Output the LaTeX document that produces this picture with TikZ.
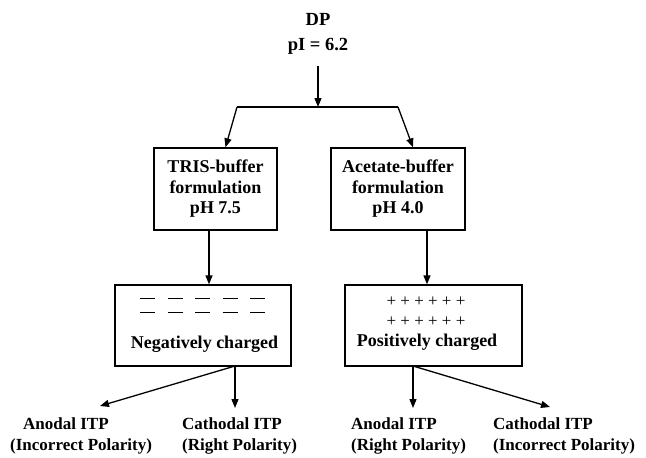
\documentclass[tikz,border=0pt]{standalone}
\usepackage{fontspec}
\setmainfont{Liberation Serif}
\usepackage{tikz}
\usetikzlibrary{positioning, arrows.meta, calc}

\tikzset{
  box/.style={draw, line width=1.3pt, inner sep=0pt},
  lbl/.style={font=\fontsize{17}{21}\selectfont\bfseries, align=center, inner sep=0pt},
  biglbl/.style={lbl, font=\fontsize{18}{20.5}\selectfont\bfseries},
  arr/.style={-{Triangle[length=9pt, width=7pt]}, line width=1.3pt},
}

\begin{document}
\begin{tikzpicture}[x=1pt, y=-1pt]
        \useasboundingbox (0,0) rectangle (646,458);

        % Top
        \node[lbl, font=\fontsize{18.5}{25}\selectfont\bfseries] (dp) at (318,33.5) {DP\\pI = 6.2};
        \coordinate (split) at (318,107);
        \coordinate (splitL) at (237,107);
        \coordinate (splitR) at (398,107);
        \draw[arr] ([yshift=-12pt]dp.south) -- (split);
        \draw[line width=1.3pt] (splitL) -- (splitR);

        % Buffers
        \node[box, biglbl, minimum width=123pt, minimum height=82pt] (tris) at (215.5,189) {TRIS-buffer\\formulation\\pH 7.5};
        \node[box, biglbl, minimum width=134pt, minimum height=82pt] (acetate) at (398,189) {Acetate-buffer\\formulation\\pH 4.0};
        \draw[arr] (splitL) -- ([xshift=10pt]tris.north);
        \draw[arr] (splitR) -- ([xshift=15pt]acetate.north);

        % Charge
        \node[box, minimum width=176pt, minimum height=81pt] (neg) at (203,325.5) {};
        \node[box, minimum width=177pt, minimum height=81pt] (pos) at (433.5,325.5) {};
        \draw[arr] ([xshift=-6.5pt]tris.south) -- ([xshift=6pt]neg.north);
        \draw[arr] ([xshift=29pt]acetate.south) -- ([xshift=-6.5pt]pos.north);

        \foreach \row in {298,312} {
            \foreach \i in {0,...,4}
                \draw[line width=1pt] ({140+27.5*\i},\row) -- ++(15,0);
        }
        \node[biglbl] (negtxt) at (204.5,344) {Negatively charged};
        \node[font=\fontsize{17}{21}\selectfont, inner sep=0pt] (plus1) at (426,302) {+ + + + + +};
        \node[font=\fontsize{17}{21}\selectfont, inner sep=0pt] (plus2) at (426,322) {+ + + + + +};
        \node[biglbl] (postxt) at (427,342) {Positively charged};

        % ITP
        \node[lbl, align=left, anchor=west] (anodL) at (10,436) {\hspace*{13pt}Anodal ITP\\(Incorrect Polarity)};
        \node[lbl, align=left, anchor=west] (cathL) at (182,436) {Cathodal ITP\\(Right Polarity)};
        \node[lbl, align=left, anchor=west] (anodR) at (351,436) {Anodal ITP\\(Right Polarity)};
        \node[lbl, align=left, anchor=west] (cathR) at (493,436) {Cathodal ITP\\(Incorrect Polarity)};

        \coordinate (negout) at (235,366);
        \coordinate (posout) at (413,366);
        \coordinate (tipA) at (100,406);
        \coordinate (tipD) at (550,407);
        \draw[arr] (negout) -- (tipA);
        \draw[arr] (negout) -- (negout |- 0,408);
        \draw[arr] (posout) -- (posout |- 0,408);
        \draw[arr] (posout) -- (tipD);

    \end{tikzpicture}
\end{document}
